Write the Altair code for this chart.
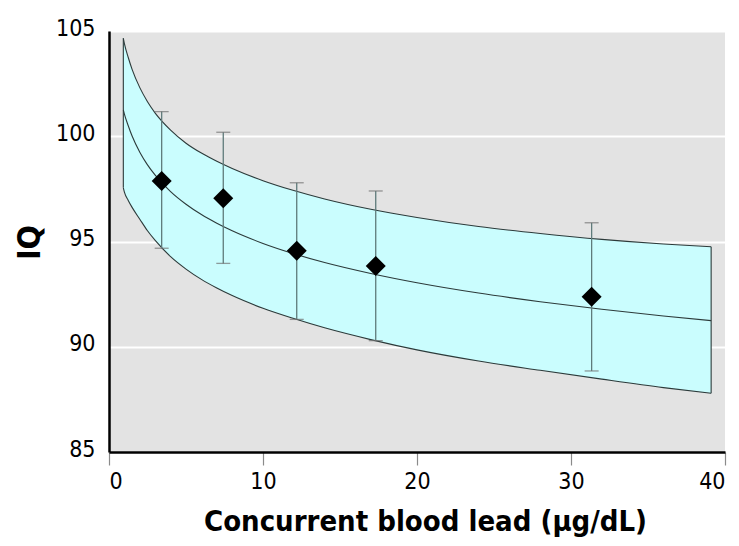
import altair as alt
import pandas as pd

# Regression curve with confidence band
band_x = [0.93, 1, 1.25, 1.5, 2, 2.5, 3, 4, 5, 6, 7, 8, 10, 12, 14, 17, 20, 24, 28, 32, 36, 39.1]
band_center = [101.25, 101.05, 100.50, 100.01, 99.24, 98.64, 98.15, 97.37, 96.77, 96.28, 95.87,
               95.51, 94.91, 94.42, 94.00, 93.48, 93.04, 92.55, 92.14, 91.78, 91.46, 91.24]
band_upper = [104.65, 104.40, 103.74, 103.18, 102.31, 101.64, 101.10, 100.29, 99.67, 99.20, 98.81,
              98.47, 97.89, 97.42, 97.02, 96.53, 96.14, 95.71, 95.38, 95.10, 94.88, 94.75]
band_lower = [97.55, 97.35, 96.95, 96.62, 96.06, 95.51, 95.05, 94.28, 93.69, 93.20, 92.79,
              92.43, 91.83, 91.34, 90.90, 90.34, 89.85, 89.32, 88.88, 88.46, 88.06, 87.79]

# Group means with error bars
pt_x = [3.42, 7.42, 12.19, 17.32, 31.34]
pt_iq = [97.87, 97.05, 94.56, 93.84, 92.38]
pt_hi = [101.17, 100.19, 97.79, 97.40, 95.89]
pt_lo = [94.68, 93.96, 91.30, 90.29, 88.85]

x_ticks = [0, 10, 20, 30, 40]
y_ticks = [85, 90, 95, 100, 105]

FONT = "DejaVu Sans Condensed, Liberation Sans Narrow, Liberation Sans, sans-serif"

band = pd.DataFrame({"x": band_x, "center": band_center, "upper": band_upper, "lower": band_lower})
edges = band.iloc[[0, len(band) - 1]]
pts = pd.DataFrame({"x": pt_x, "iq": pt_iq, "hi": pt_hi, "lo": pt_lo})

xscale = alt.Scale(domain=[0, 40], nice=False, zero=False)
yscale = alt.Scale(domain=[85, 105], nice=False, zero=False)

xaxis = alt.Axis(
    values=x_ticks, grid=False, domainColor="black", domainWidth=2.5,
    tickColor="#8a8a8a", tickWidth=1.2, tickSize=13,
    labelFont=FONT, labelFontSize=23, labelColor="black", labelPadding=5,
    title="Concurrent blood lead (\u03bcg/dL)", titleFont=FONT, titleFontSize=29,
    titleFontWeight="bold", titleColor="black", titleBaseline="alphabetic",
    titleAlign="center", titleX=316, titleY=78,
)
yaxis = alt.Axis(
    values=y_ticks, grid=True, gridColor="white", gridWidth=2,
    domainColor="black", domainWidth=2.5, ticks=False, tickSize=0,
    labelFont=FONT, labelFontSize=23, labelColor="black", labelPadding=14,
    labelBaseline="middle", labelOffset=-3,
    title="IQ", titleFont=FONT, titleFontSize=32, titleFontWeight="bold",
    titleColor="black", titleAngle=270, titleBaseline="alphabetic",
    titleAlign="center", titleX=-70, titleY=211,
)

base_band = alt.Chart(band)

area = base_band.mark_area(interpolate="monotone", color="#cafdfe", opacity=1).encode(
    x=alt.X("x:Q", scale=xscale, axis=xaxis),
    y=alt.Y("lower:Q", scale=yscale, axis=yaxis),
    y2="upper:Q",
)

lines = base_band.transform_fold(["upper", "center", "lower"], as_=["curve", "val"]).mark_line(
    interpolate="monotone", color="#2c3a3a", strokeWidth=1.1
).encode(
    x=alt.X("x:Q", scale=xscale),
    y=alt.Y("val:Q", scale=yscale),
    detail="curve:N",
)

edge_rules = alt.Chart(edges).mark_rule(color="#2c3a3a", strokeWidth=1.1).encode(
    x=alt.X("x:Q", scale=xscale),
    y=alt.Y("lower:Q", scale=yscale),
    y2="upper:Q",
)

base_pts = alt.Chart(pts)
bars = base_pts.mark_rule(color="#5f7b7b", strokeWidth=1.3).encode(
    x=alt.X("x:Q", scale=xscale),
    y=alt.Y("lo:Q", scale=yscale),
    y2="hi:Q",
)
cap_hi = base_pts.mark_tick(orient="horizontal", size=14, thickness=1.3, color="#707070").encode(
    x=alt.X("x:Q", scale=xscale),
    y=alt.Y("hi:Q", scale=yscale),
)
cap_lo = base_pts.mark_tick(orient="horizontal", size=14, thickness=1.3, color="#707070").encode(
    x=alt.X("x:Q", scale=xscale),
    y=alt.Y("lo:Q", scale=yscale),
)
diamonds = base_pts.mark_point(shape="diamond", filled=True, size=400, color="black", opacity=1).encode(
    x=alt.X("x:Q", scale=xscale),
    y=alt.Y("iq:Q", scale=yscale),
)

chart = alt.layer(area, lines, edge_rules, bars, cap_hi, cap_lo, diamonds).properties(
    width=616,
    height=421,
    autosize=alt.AutoSizeParams(type="none"),
    padding={"left": 101, "top": 23, "right": 6, "bottom": 86},
    background="white",
).configure_view(fill="#e3e3e3", strokeWidth=0)

chart.save("out.html", embed_options={"renderer": "svg", "actions": False})
